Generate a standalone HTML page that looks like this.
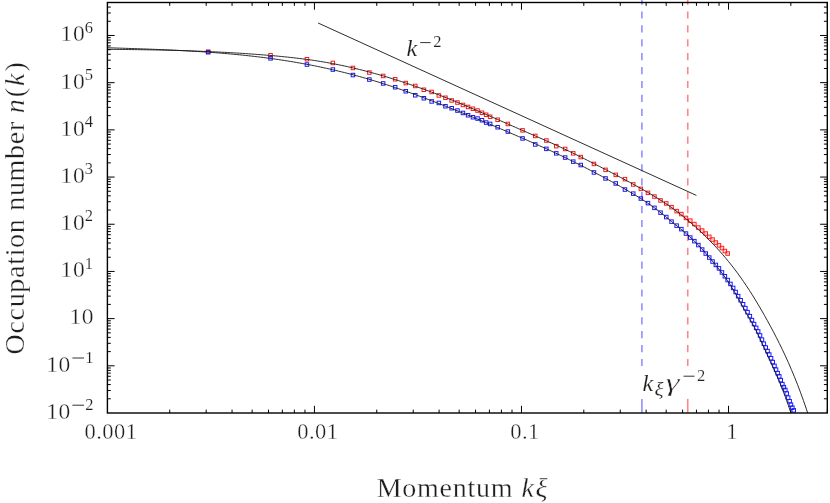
<!DOCTYPE html>
<html><head><meta charset="utf-8"><title>Occupation number</title>
<style>html,body{margin:0;padding:0;background:#fff}body{width:830px;height:503px;overflow:hidden;font-family:"Liberation Serif",serif}svg{display:block}</style>
</head><body>
<svg width="830" height="503" viewBox="0 0 830 503" font-family="Liberation Serif, serif" fill="#1e1e1e">
<style>text{stroke:#fff;stroke-width:0.3px;filter:grayscale(1)}.s{stroke-width:0.15px}</style>
<rect width="830" height="503" fill="#fff"/>
<g stroke-width="1.6" fill="none">
<path d="M641.9,-2.5V366.2" stroke="#9090ff" stroke-dasharray="7.2 6.7"/>
<path d="M641.9,398.9V413" stroke="#9090ff"/>
<path d="M687.75,-2.5V366.2" stroke="#ff8686" stroke-dasharray="7.2 6.7"/>
<path d="M687.75,398.9V413" stroke="#ff8686"/>
</g>
<g fill="#b4b4ff" stroke="none"><circle cx="643.8" cy="200.5" r="0.75"/><circle cx="650.6" cy="205.1" r="0.75"/><circle cx="656.9" cy="209.7" r="0.75"/><circle cx="662.8" cy="214.3" r="0.75"/><circle cx="668.4" cy="218.9" r="0.75"/><circle cx="673.6" cy="223.2" r="0.75"/><circle cx="678.6" cy="227.2" r="0.75"/><circle cx="683.2" cy="231.1" r="0.75"/><circle cx="687.7" cy="234.9" r="0.75"/><circle cx="691.9" cy="238.8" r="0.75"/><circle cx="696.0" cy="242.7" r="0.75"/><circle cx="699.9" cy="246.7" r="0.75"/><circle cx="703.6" cy="250.8" r="0.75"/><circle cx="707.1" cy="254.9" r="0.75"/><circle cx="710.6" cy="259.0" r="0.75"/><circle cx="713.9" cy="262.9" r="0.75"/><circle cx="717.1" cy="266.8" r="0.75"/><circle cx="720.2" cy="270.7" r="0.75"/><circle cx="723.1" cy="274.6" r="0.75"/><circle cx="726.0" cy="278.5" r="0.75"/><circle cx="728.8" cy="282.6" r="0.75"/><circle cx="731.5" cy="286.8" r="0.75"/><circle cx="734.1" cy="291.1" r="0.75"/><circle cx="736.7" cy="295.6" r="0.75"/><circle cx="739.2" cy="300.2" r="0.75"/><circle cx="741.6" cy="304.8" r="0.75"/><circle cx="744.0" cy="309.1" r="0.75"/><circle cx="746.2" cy="313.2" r="0.75"/><circle cx="748.5" cy="317.0" r="0.75"/><circle cx="750.7" cy="320.6" r="0.75"/><circle cx="752.8" cy="324.3" r="0.75"/><circle cx="754.9" cy="328.1" r="0.75"/><circle cx="756.9" cy="332.2" r="0.75"/><circle cx="758.9" cy="336.4" r="0.75"/><circle cx="760.8" cy="340.7" r="0.75"/><circle cx="762.8" cy="344.9" r="0.75"/><circle cx="764.6" cy="349.0" r="0.75"/><circle cx="766.4" cy="353.0" r="0.75"/><circle cx="768.2" cy="356.9" r="0.75"/><circle cx="770.0" cy="360.7" r="0.75"/><circle cx="771.7" cy="364.4" r="0.75"/><circle cx="773.4" cy="368.1" r="0.75"/><circle cx="775.1" cy="371.8" r="0.75"/><circle cx="776.7" cy="375.5" r="0.75"/><circle cx="778.3" cy="379.1" r="0.75"/><circle cx="779.9" cy="382.8" r="0.75"/><circle cx="781.4" cy="386.6" r="0.75"/><circle cx="782.9" cy="390.4" r="0.75"/><circle cx="784.4" cy="394.4" r="0.75"/><circle cx="785.9" cy="398.4" r="0.75"/><circle cx="787.3" cy="402.4" r="0.75"/><circle cx="788.8" cy="406.5" r="0.75"/><circle cx="790.2" cy="410.5" r="0.75"/></g>
<g fill="#ffb0b0" stroke="none"><circle cx="640.9" cy="188.8" r="0.75"/><circle cx="647.9" cy="192.8" r="0.75"/><circle cx="654.4" cy="196.5" r="0.75"/><circle cx="660.5" cy="200.4" r="0.75"/><circle cx="666.2" cy="203.4" r="0.75"/><circle cx="671.6" cy="207.2" r="0.75"/><circle cx="676.6" cy="211.2" r="0.75"/><circle cx="681.4" cy="214.1" r="0.75"/><circle cx="685.9" cy="217.9" r="0.75"/><circle cx="690.3" cy="220.7" r="0.75"/><circle cx="694.4" cy="224.1" r="0.75"/><circle cx="698.3" cy="227.5" r="0.75"/><circle cx="702.1" cy="230.6" r="0.75"/><circle cx="705.7" cy="233.6" r="0.75"/><circle cx="709.2" cy="236.8" r="0.75"/><circle cx="712.6" cy="239.6" r="0.75"/><circle cx="715.8" cy="242.6" r="0.75"/><circle cx="718.9" cy="245.3" r="0.75"/><circle cx="722.0" cy="248.1" r="0.75"/><circle cx="724.9" cy="251.1" r="0.75"/><circle cx="727.7" cy="253.5" r="0.75"/></g>
<g fill="none" stroke="#ff1a1a" stroke-width="1"><rect x="206.4" y="49.9" width="3.5" height="3.5"/><rect x="268.8" y="53.5" width="3.5" height="3.5"/><rect x="305.2" y="57.5" width="3.5" height="3.5"/><rect x="331.1" y="61.2" width="3.5" height="3.5"/><rect x="351.2" y="66.2" width="3.5" height="3.5"/><rect x="367.6" y="70.8" width="3.5" height="3.5"/><rect x="381.4" y="74.2" width="3.5" height="3.5"/><rect x="393.4" y="77.5" width="3.5" height="3.5"/><rect x="404.0" y="81.3" width="3.5" height="3.5"/><rect x="413.5" y="84.2" width="3.5" height="3.5"/><rect x="422.1" y="88.0" width="3.5" height="3.5"/><rect x="429.9" y="90.2" width="3.5" height="3.5"/><rect x="437.1" y="93.7" width="3.5" height="3.5"/><rect x="443.7" y="96.0" width="3.5" height="3.5"/><rect x="449.9" y="98.7" width="3.5" height="3.5"/><rect x="455.7" y="100.8" width="3.5" height="3.5"/><rect x="461.2" y="103.2" width="3.5" height="3.5"/><rect x="466.3" y="105.2" width="3.5" height="3.5"/><rect x="471.2" y="107.0" width="3.5" height="3.5"/><rect x="475.8" y="108.8" width="3.5" height="3.5"/><rect x="480.2" y="111.0" width="3.5" height="3.5"/><rect x="484.4" y="113.0" width="3.5" height="3.5"/><rect x="488.4" y="115.0" width="3.5" height="3.5"/><rect x="495.9" y="118.0" width="3.5" height="3.5"/><rect x="506.1" y="122.2" width="3.5" height="3.5"/><rect x="520.8" y="128.6" width="3.5" height="3.5"/><rect x="533.5" y="134.2" width="3.5" height="3.5"/><rect x="544.6" y="138.8" width="3.5" height="3.5"/><rect x="554.5" y="144.4" width="3.5" height="3.5"/><rect x="563.4" y="147.2" width="3.5" height="3.5"/><rect x="571.5" y="151.6" width="3.5" height="3.5"/><rect x="579.0" y="155.3" width="3.5" height="3.5"/><rect x="592.2" y="162.2" width="3.5" height="3.5"/><rect x="603.8" y="168.1" width="3.5" height="3.5"/><rect x="614.0" y="173.1" width="3.5" height="3.5"/><rect x="623.2" y="177.4" width="3.5" height="3.5"/><rect x="631.5" y="182.7" width="3.5" height="3.5"/><rect x="639.1" y="187.1" width="3.5" height="3.5"/><rect x="646.2" y="191.1" width="3.5" height="3.5"/><rect x="652.7" y="194.8" width="3.5" height="3.5"/><rect x="658.8" y="198.7" width="3.5" height="3.5"/><rect x="664.5" y="201.7" width="3.5" height="3.5"/><rect x="669.8" y="205.4" width="3.5" height="3.5"/><rect x="674.9" y="209.4" width="3.5" height="3.5"/><rect x="679.6" y="212.3" width="3.5" height="3.5"/><rect x="684.2" y="216.2" width="3.5" height="3.5"/><rect x="688.5" y="218.9" width="3.5" height="3.5"/><rect x="692.6" y="222.3" width="3.5" height="3.5"/><rect x="696.6" y="225.8" width="3.5" height="3.5"/><rect x="700.4" y="228.8" width="3.5" height="3.5"/><rect x="704.0" y="231.8" width="3.5" height="3.5"/><rect x="707.5" y="235.1" width="3.5" height="3.5"/><rect x="710.8" y="237.8" width="3.5" height="3.5"/><rect x="714.1" y="240.8" width="3.5" height="3.5"/><rect x="717.2" y="243.6" width="3.5" height="3.5"/><rect x="720.2" y="246.3" width="3.5" height="3.5"/><rect x="723.1" y="249.3" width="3.5" height="3.5"/><rect x="725.9" y="251.8" width="3.5" height="3.5"/></g>
<g fill="none" stroke="#1a1aff" stroke-width="1"><rect x="206.4" y="50.5" width="3.5" height="3.5"/><rect x="268.8" y="56.6" width="3.5" height="3.5"/><rect x="305.2" y="62.8" width="3.5" height="3.5"/><rect x="331.1" y="67.8" width="3.5" height="3.5"/><rect x="351.2" y="73.3" width="3.5" height="3.5"/><rect x="367.6" y="77.8" width="3.5" height="3.5"/><rect x="381.4" y="81.7" width="3.5" height="3.5"/><rect x="393.4" y="85.5" width="3.5" height="3.5"/><rect x="404.0" y="89.5" width="3.5" height="3.5"/><rect x="413.5" y="93.5" width="3.5" height="3.5"/><rect x="422.1" y="96.5" width="3.5" height="3.5"/><rect x="429.9" y="99.7" width="3.5" height="3.5"/><rect x="437.1" y="101.2" width="3.5" height="3.5"/><rect x="443.7" y="104.5" width="3.5" height="3.5"/><rect x="449.9" y="106.5" width="3.5" height="3.5"/><rect x="455.7" y="108.8" width="3.5" height="3.5"/><rect x="461.2" y="111.2" width="3.5" height="3.5"/><rect x="466.3" y="113.5" width="3.5" height="3.5"/><rect x="471.2" y="115.5" width="3.5" height="3.5"/><rect x="475.8" y="116.8" width="3.5" height="3.5"/><rect x="480.2" y="118.5" width="3.5" height="3.5"/><rect x="484.4" y="120.8" width="3.5" height="3.5"/><rect x="488.4" y="122.2" width="3.5" height="3.5"/><rect x="495.9" y="125.5" width="3.5" height="3.5"/><rect x="506.1" y="129.8" width="3.5" height="3.5"/><rect x="520.8" y="136.7" width="3.5" height="3.5"/><rect x="533.5" y="142.7" width="3.5" height="3.5"/><rect x="544.6" y="147.1" width="3.5" height="3.5"/><rect x="554.5" y="151.6" width="3.5" height="3.5"/><rect x="563.4" y="155.8" width="3.5" height="3.5"/><rect x="571.5" y="159.9" width="3.5" height="3.5"/><rect x="579.0" y="163.3" width="3.5" height="3.5"/><rect x="592.2" y="170.7" width="3.5" height="3.5"/><rect x="603.8" y="176.7" width="3.5" height="3.5"/><rect x="614.0" y="181.7" width="3.5" height="3.5"/><rect x="623.2" y="187.8" width="3.5" height="3.5"/><rect x="631.5" y="191.9" width="3.5" height="3.5"/><rect x="639.1" y="196.8" width="3.5" height="3.5"/><rect x="646.2" y="201.4" width="3.5" height="3.5"/><rect x="652.7" y="206.1" width="3.5" height="3.5"/><rect x="658.8" y="210.9" width="3.5" height="3.5"/><rect x="664.5" y="215.3" width="3.5" height="3.5"/><rect x="669.8" y="219.9" width="3.5" height="3.5"/><rect x="674.9" y="223.9" width="3.5" height="3.5"/><rect x="679.6" y="227.4" width="3.5" height="3.5"/><rect x="684.2" y="231.8" width="3.5" height="3.5"/><rect x="688.5" y="235.8" width="3.5" height="3.5"/><rect x="692.6" y="239.4" width="3.5" height="3.5"/><rect x="696.6" y="243.3" width="3.5" height="3.5"/><rect x="700.4" y="247.8" width="3.5" height="3.5"/><rect x="704.0" y="251.8" width="3.5" height="3.5"/><rect x="707.5" y="255.8" width="3.5" height="3.5"/><rect x="710.8" y="259.8" width="3.5" height="3.5"/><rect x="714.1" y="263.2" width="3.5" height="3.5"/><rect x="717.2" y="266.6" width="3.5" height="3.5"/><rect x="720.2" y="270.7" width="3.5" height="3.5"/><rect x="723.1" y="274.5" width="3.5" height="3.5"/><rect x="725.9" y="278.3" width="3.5" height="3.5"/><rect x="728.7" y="282.2" width="3.5" height="3.5"/><rect x="731.4" y="286.2" width="3.5" height="3.5"/><rect x="733.9" y="290.3" width="3.5" height="3.5"/><rect x="736.4" y="294.4" width="3.5" height="3.5"/><rect x="738.9" y="298.5" width="3.5" height="3.5"/><rect x="741.3" y="302.5" width="3.5" height="3.5"/><rect x="743.6" y="306.4" width="3.5" height="3.5"/><rect x="745.8" y="310.4" width="3.5" height="3.5"/><rect x="748.1" y="314.4" width="3.5" height="3.5"/><rect x="750.2" y="318.4" width="3.5" height="3.5"/><rect x="752.3" y="322.3" width="3.5" height="3.5"/><rect x="754.4" y="326.1" width="3.5" height="3.5"/><rect x="756.4" y="329.7" width="3.5" height="3.5"/><rect x="758.3" y="333.7" width="3.5" height="3.5"/><rect x="760.2" y="337.9" width="3.5" height="3.5"/><rect x="762.1" y="342.0" width="3.5" height="3.5"/><rect x="764.0" y="345.8" width="3.5" height="3.5"/><rect x="765.8" y="349.3" width="3.5" height="3.5"/><rect x="767.5" y="352.8" width="3.5" height="3.5"/><rect x="769.3" y="356.5" width="3.5" height="3.5"/><rect x="771.0" y="360.3" width="3.5" height="3.5"/><rect x="772.7" y="364.1" width="3.5" height="3.5"/><rect x="774.3" y="367.9" width="3.5" height="3.5"/><rect x="775.9" y="371.4" width="3.5" height="3.5"/><rect x="777.5" y="374.6" width="3.5" height="3.5"/><rect x="779.0" y="378.4" width="3.5" height="3.5"/><rect x="780.6" y="382.4" width="3.5" height="3.5"/><rect x="782.1" y="385.4" width="3.5" height="3.5"/><rect x="783.6" y="388.2" width="3.5" height="3.5"/><rect x="785.0" y="391.8" width="3.5" height="3.5"/><rect x="786.4" y="395.9" width="3.5" height="3.5"/><rect x="787.9" y="399.5" width="3.5" height="3.5"/><rect x="789.2" y="402.9" width="3.5" height="3.5"/><rect x="790.6" y="405.9" width="3.5" height="3.5"/><rect x="792.0" y="408.6" width="3.5" height="3.5"/></g>
<g stroke="#151515" stroke-width="0.9" fill="none" stroke-linejoin="round">
<path d="M107.4,49.35 L110.4,49.37 L113.4,49.39 L116.4,49.42 L119.4,49.45 L122.4,49.47 L125.4,49.51 L128.4,49.54 L131.4,49.57 L134.4,49.61 L137.4,49.65 L140.4,49.69 L143.4,49.74 L146.4,49.79 L149.4,49.84 L152.4,49.89 L155.4,49.95 L158.4,50.01 L161.4,50.07 L164.4,50.14 L167.4,50.21 L170.4,50.29 L173.4,50.36 L176.4,50.45 L179.4,50.53 L182.4,50.62 L185.4,50.71 L188.4,50.81 L191.4,50.91 L194.4,51.02 L197.4,51.13 L200.4,51.25 L203.4,51.37 L206.4,51.49 L209.4,51.62 L212.4,51.76 L215.4,51.90 L218.4,52.04 L221.4,52.19 L224.4,52.35 L227.4,52.51 L230.4,52.68 L233.4,52.85 L236.4,53.03 L239.4,53.21 L242.4,53.40 L245.4,53.60 L248.4,53.80 L251.4,54.01 L254.4,54.22 L257.4,54.44 L260.4,54.67 L263.4,54.91 L266.4,55.15 L269.4,55.40 L272.4,55.66 L275.4,55.92 L278.4,56.20 L281.4,56.49 L284.4,56.79 L287.4,57.10 L290.4,57.42 L293.4,57.75 L296.4,58.10 L299.4,58.46 L302.4,58.84 L305.4,59.23 L308.4,59.64 L311.4,60.06 L314.4,60.50 L317.4,60.96 L320.4,61.44 L323.4,61.94 L326.4,62.45 L329.4,62.99 L332.4,63.54 L335.4,64.12 L338.4,64.72 L341.4,65.33 L344.4,65.97 L347.4,66.63 L350.4,67.31 L353.4,68.01 L356.4,68.72 L359.4,69.46 L362.4,70.21 L365.4,70.99 L368.4,71.78 L371.4,72.58 L374.4,73.41 L377.4,74.25 L380.4,75.11 L383.4,75.98 L386.4,76.87 L389.4,77.78 L392.4,78.70 L395.4,79.64 L398.4,80.59 L401.4,81.56 L404.4,82.55 L407.4,83.55 L410.4,84.56 L413.4,85.59 L416.4,86.63 L419.4,87.69 L422.4,88.76 L425.4,89.85 L428.4,90.95 L431.4,92.07 L434.4,93.20 L437.4,94.34 L440.4,95.50 L443.4,96.67 L446.4,97.85 L449.4,99.05 L452.4,100.26 L455.4,101.48 L458.4,102.71 L461.4,103.95 L464.4,105.21 L467.4,106.47 L470.4,107.74 L473.4,109.01 L476.4,110.30 L479.4,111.59 L482.4,112.89 L485.4,114.19 L488.4,115.49 L491.4,116.80 L494.4,118.11 L497.4,119.43 L500.4,120.74 L503.4,122.06 L506.4,123.37 L509.4,124.69 L512.4,126.01 L515.4,127.32 L518.4,128.63 L521.4,129.93 L524.4,131.24 L527.4,132.54 L530.4,133.84 L533.4,135.14 L536.4,136.44 L539.4,137.74 L542.4,139.05 L545.4,140.37 L548.4,141.70 L551.4,143.03 L554.4,144.38 L557.4,145.75 L560.4,147.13 L563.4,148.52 L566.4,149.94 L569.4,151.38 L572.4,152.83 L575.4,154.30 L578.4,155.79 L581.4,157.28 L584.4,158.79 L587.4,160.30 L590.4,161.82 L593.4,163.35 L596.4,164.88 L599.4,166.41 L602.4,167.95 L605.4,169.49 L608.4,171.04 L611.4,172.59 L614.4,174.16 L617.4,175.73 L620.4,177.32 L623.4,178.91 L626.4,180.52 L629.4,182.15 L632.4,183.78 L635.4,185.44 L638.4,187.11 L641.4,188.80 L644.4,190.51 L647.4,192.23 L650.4,193.98 L653.4,195.76 L656.4,197.58 L659.4,199.43 L662.4,201.34 L665.4,203.31 L668.4,205.35 L671.4,207.46 L674.4,209.63 L677.4,211.88 L680.4,214.20 L683.4,216.59 L686.4,219.05 L689.4,221.58 L692.4,224.18 L695.4,226.86 L698.4,229.60 L701.4,232.42 L704.4,235.31 L707.4,238.27 L710.4,241.30 L713.4,244.41 L716.4,247.60 L719.4,250.88 L722.4,254.26 L725.4,257.75 L728.4,261.35 L731.4,265.08 L734.4,268.93 L737.4,272.93 L740.4,277.07 L743.4,281.36 L746.4,285.79 L749.4,290.37 L752.4,295.09 L755.4,299.95 L758.4,304.94 L761.4,310.06 L764.4,315.31 L767.4,320.68 L770.4,326.17 L773.4,331.79 L776.4,337.56 L779.4,343.51 L782.4,349.65 L785.4,356.03 L788.4,362.65 L791.4,369.55 L794.4,376.74 L797.4,384.27 L800.4,392.14 L803.4,400.40 L806.4,409.05 L807.7,413.00"/>
<path d="M107.4,47.76 L110.4,47.85 L113.4,47.94 L116.4,48.04 L119.4,48.13 L122.4,48.22 L125.4,48.32 L128.4,48.42 L131.4,48.52 L134.4,48.62 L137.4,48.72 L140.4,48.82 L143.4,48.93 L146.4,49.03 L149.4,49.15 L152.4,49.26 L155.4,49.38 L158.4,49.50 L161.4,49.62 L164.4,49.75 L167.4,49.88 L170.4,50.02 L173.4,50.16 L176.4,50.30 L179.4,50.45 L182.4,50.61 L185.4,50.77 L188.4,50.93 L191.4,51.11 L194.4,51.28 L197.4,51.47 L200.4,51.66 L203.4,51.86 L206.4,52.06 L209.4,52.27 L212.4,52.49 L215.4,52.71 L218.4,52.95 L221.4,53.19 L224.4,53.44 L227.4,53.70 L230.4,53.96 L233.4,54.24 L236.4,54.52 L239.4,54.81 L242.4,55.12 L245.4,55.43 L248.4,55.75 L251.4,56.09 L254.4,56.43 L257.4,56.78 L260.4,57.15 L263.4,57.52 L266.4,57.91 L269.4,58.31 L272.4,58.72 L275.4,59.14 L278.4,59.57 L281.4,60.02 L284.4,60.47 L287.4,60.95 L290.4,61.43 L293.4,61.93 L296.4,62.44 L299.4,62.96 L302.4,63.50 L305.4,64.05 L308.4,64.62 L311.4,65.20 L314.4,65.79 L317.4,66.40 L320.4,67.03 L323.4,67.67 L326.4,68.32 L329.4,68.99 L332.4,69.68 L335.4,70.37 L338.4,71.09 L341.4,71.82 L344.4,72.56 L347.4,73.32 L350.4,74.10 L353.4,74.89 L356.4,75.69 L359.4,76.52 L362.4,77.35 L365.4,78.21 L368.4,79.08 L371.4,79.96 L374.4,80.86 L377.4,81.78 L380.4,82.71 L383.4,83.66 L386.4,84.63 L389.4,85.61 L392.4,86.61 L395.4,87.62 L398.4,88.64 L401.4,89.68 L404.4,90.73 L407.4,91.80 L410.4,92.87 L413.4,93.96 L416.4,95.06 L419.4,96.17 L422.4,97.28 L425.4,98.41 L428.4,99.54 L431.4,100.69 L434.4,101.84 L437.4,102.99 L440.4,104.16 L443.4,105.33 L446.4,106.51 L449.4,107.69 L452.4,108.88 L455.4,110.08 L458.4,111.28 L461.4,112.49 L464.4,113.70 L467.4,114.93 L470.4,116.15 L473.4,117.38 L476.4,118.62 L479.4,119.87 L482.4,121.11 L485.4,122.37 L488.4,123.63 L491.4,124.89 L494.4,126.16 L497.4,127.43 L500.4,128.71 L503.4,129.99 L506.4,131.27 L509.4,132.56 L512.4,133.85 L515.4,135.15 L518.4,136.45 L521.4,137.76 L524.4,139.06 L527.4,140.37 L530.4,141.69 L533.4,143.01 L536.4,144.34 L539.4,145.68 L542.4,147.02 L545.4,148.38 L548.4,149.74 L551.4,151.12 L554.4,152.51 L557.4,153.91 L560.4,155.32 L563.4,156.75 L566.4,158.20 L569.4,159.66 L572.4,161.13 L575.4,162.63 L578.4,164.13 L581.4,165.65 L584.4,167.19 L587.4,168.73 L590.4,170.29 L593.4,171.86 L596.4,173.45 L599.4,175.04 L602.4,176.64 L605.4,178.25 L608.4,179.87 L611.4,181.50 L614.4,183.15 L617.4,184.81 L620.4,186.49 L623.4,188.19 L626.4,189.92 L629.4,191.67 L632.4,193.45 L635.4,195.26 L638.4,197.10 L641.4,198.99 L644.4,200.93 L647.4,202.92 L650.4,204.98 L653.4,207.11 L656.4,209.32 L659.4,211.61 L662.4,213.99 L665.4,216.44 L668.4,218.92 L671.4,221.40 L674.4,223.84 L677.4,226.26 L680.4,228.71 L683.4,231.21 L686.4,233.78 L689.4,236.45 L692.4,239.23 L695.4,242.14 L698.4,245.20 L701.4,248.41 L704.4,251.75 L707.4,255.21 L710.4,258.74 L713.4,262.33 L716.4,265.97 L719.4,269.71 L722.4,273.60 L725.4,277.67 L728.4,281.99 L731.4,286.61 L734.4,291.56 L737.4,296.90 L740.4,302.50 L743.4,308.10 L746.4,313.44 L749.4,318.51 L752.4,323.62 L755.4,329.13 L758.4,335.33 L761.4,341.95 L764.4,348.54 L767.4,355.05 L770.4,361.55 L773.4,368.10 L776.4,374.78 L779.4,381.73 L782.4,389.09 L785.4,397.00 L788.4,405.44 L791.0,413.00"/>
<path d="M318.1,23.0L696.4,195.4"/>
</g>
<path d="M169.72,413.0v-3.4M169.72,2.5v3.4M206.18,413.0v-3.4M206.18,2.5v3.4M232.05,413.0v-3.4M232.05,2.5v3.4M252.11,413.0v-3.4M252.11,2.5v3.4M268.51,413.0v-3.4M268.51,2.5v3.4M282.37,413.0v-3.4M282.37,2.5v3.4M294.37,413.0v-3.4M294.37,2.5v3.4M304.97,413.0v-3.4M304.97,2.5v3.4M314.44,413.0v-7.2M314.44,2.5v7.2M376.76,413.0v-3.4M376.76,2.5v3.4M413.22,413.0v-3.4M413.22,2.5v3.4M439.09,413.0v-3.4M439.09,2.5v3.4M459.15,413.0v-3.4M459.15,2.5v3.4M475.55,413.0v-3.4M475.55,2.5v3.4M489.41,413.0v-3.4M489.41,2.5v3.4M501.41,413.0v-3.4M501.41,2.5v3.4M512.00,413.0v-3.4M512.00,2.5v3.4M521.48,413.0v-7.2M521.48,2.5v7.2M583.80,413.0v-3.4M583.80,2.5v3.4M620.26,413.0v-3.4M620.26,2.5v3.4M646.13,413.0v-3.4M646.13,2.5v3.4M666.19,413.0v-3.4M666.19,2.5v3.4M682.59,413.0v-3.4M682.59,2.5v3.4M696.45,413.0v-3.4M696.45,2.5v3.4M708.45,413.0v-3.4M708.45,2.5v3.4M719.04,413.0v-3.4M719.04,2.5v3.4M728.52,413.0v-7.2M728.52,2.5v7.2M790.84,413.0v-3.4M790.84,2.5v3.4M827.30,413.0v-3.4M827.30,2.5v3.4M107.4,398.79h3.4M827.3,398.79h-3.4M107.4,390.48h3.4M827.3,390.48h-3.4M107.4,384.59h3.4M827.3,384.59h-3.4M107.4,380.02h3.4M827.3,380.02h-3.4M107.4,376.28h3.4M827.3,376.28h-3.4M107.4,373.12h3.4M827.3,373.12h-3.4M107.4,370.38h3.4M827.3,370.38h-3.4M107.4,367.97h3.4M827.3,367.97h-3.4M107.4,365.81h7.2M827.3,365.81h-7.2M107.4,351.61h3.4M827.3,351.61h-3.4M107.4,343.30h3.4M827.3,343.30h-3.4M107.4,337.40h3.4M827.3,337.40h-3.4M107.4,332.83h3.4M827.3,332.83h-3.4M107.4,329.09h3.4M827.3,329.09h-3.4M107.4,325.93h3.4M827.3,325.93h-3.4M107.4,323.19h3.4M827.3,323.19h-3.4M107.4,320.78h3.4M827.3,320.78h-3.4M107.4,318.62h7.2M827.3,318.62h-7.2M107.4,304.42h3.4M827.3,304.42h-3.4M107.4,296.11h3.4M827.3,296.11h-3.4M107.4,290.21h3.4M827.3,290.21h-3.4M107.4,285.64h3.4M827.3,285.64h-3.4M107.4,281.90h3.4M827.3,281.90h-3.4M107.4,278.74h3.4M827.3,278.74h-3.4M107.4,276.00h3.4M827.3,276.00h-3.4M107.4,273.59h3.4M827.3,273.59h-3.4M107.4,271.43h7.2M827.3,271.43h-7.2M107.4,257.23h3.4M827.3,257.23h-3.4M107.4,248.92h3.4M827.3,248.92h-3.4M107.4,243.02h3.4M827.3,243.02h-3.4M107.4,238.45h3.4M827.3,238.45h-3.4M107.4,234.71h3.4M827.3,234.71h-3.4M107.4,231.55h3.4M827.3,231.55h-3.4M107.4,228.82h3.4M827.3,228.82h-3.4M107.4,226.40h3.4M827.3,226.40h-3.4M107.4,224.24h7.2M827.3,224.24h-7.2M107.4,210.04h3.4M827.3,210.04h-3.4M107.4,201.73h3.4M827.3,201.73h-3.4M107.4,195.83h3.4M827.3,195.83h-3.4M107.4,191.26h3.4M827.3,191.26h-3.4M107.4,187.52h3.4M827.3,187.52h-3.4M107.4,184.36h3.4M827.3,184.36h-3.4M107.4,181.63h3.4M827.3,181.63h-3.4M107.4,179.21h3.4M827.3,179.21h-3.4M107.4,177.05h7.2M827.3,177.05h-7.2M107.4,162.85h3.4M827.3,162.85h-3.4M107.4,154.54h3.4M827.3,154.54h-3.4M107.4,148.64h3.4M827.3,148.64h-3.4M107.4,144.07h3.4M827.3,144.07h-3.4M107.4,140.33h3.4M827.3,140.33h-3.4M107.4,137.17h3.4M827.3,137.17h-3.4M107.4,134.44h3.4M827.3,134.44h-3.4M107.4,132.02h3.4M827.3,132.02h-3.4M107.4,129.86h7.2M827.3,129.86h-7.2M107.4,115.66h3.4M827.3,115.66h-3.4M107.4,107.35h3.4M827.3,107.35h-3.4M107.4,101.45h3.4M827.3,101.45h-3.4M107.4,96.88h3.4M827.3,96.88h-3.4M107.4,93.14h3.4M827.3,93.14h-3.4M107.4,89.98h3.4M827.3,89.98h-3.4M107.4,87.25h3.4M827.3,87.25h-3.4M107.4,84.83h3.4M827.3,84.83h-3.4M107.4,82.67h7.2M827.3,82.67h-7.2M107.4,68.47h3.4M827.3,68.47h-3.4M107.4,60.16h3.4M827.3,60.16h-3.4M107.4,54.26h3.4M827.3,54.26h-3.4M107.4,49.69h3.4M827.3,49.69h-3.4M107.4,45.95h3.4M827.3,45.95h-3.4M107.4,42.79h3.4M827.3,42.79h-3.4M107.4,40.06h3.4M827.3,40.06h-3.4M107.4,37.64h3.4M827.3,37.64h-3.4M107.4,35.48h7.2M827.3,35.48h-7.2M107.4,21.28h3.4M827.3,21.28h-3.4M107.4,12.97h3.4M827.3,12.97h-3.4M107.4,7.07h3.4M827.3,7.07h-3.4M107.4,2.50h3.4M827.3,2.50h-3.4" stroke="#000" stroke-width="1" fill="none"/>
<rect x="107.4" y="2.5" width="719.9" height="410.5" fill="none" stroke="#000" stroke-width="1.4"/>
<text x="110.9" y="439.3" text-anchor="middle" font-size="22.5" letter-spacing="0.45">0.001</text><text x="317.9" y="439.3" text-anchor="middle" font-size="22.5" letter-spacing="0.45">0.01</text><text x="525.0" y="439.3" text-anchor="middle" font-size="22.5" letter-spacing="0.45">0.1</text><text x="732.0" y="439.3" text-anchor="middle" font-size="22.5" letter-spacing="0.45">1</text><text x="46.2" y="418.8" font-size="23.5" letter-spacing="0.6">10</text><path d="M72.4,405.2h11.6" stroke="#333" stroke-width="1" fill="none"/><text x="93.6" y="410.2" text-anchor="end" font-size="16.5" class="s">2</text><text x="46.2" y="371.6" font-size="23.5" letter-spacing="0.6">10</text><path d="M72.4,358.0h11.6" stroke="#333" stroke-width="1" fill="none"/><text x="93.6" y="363.0" text-anchor="end" font-size="16.5" class="s">1</text><text x="69.4" y="324.4" font-size="23.5" letter-spacing="0.6">10</text><text x="60.6" y="277.2" font-size="23.5" letter-spacing="0.6">10</text><text x="93.0" y="268.6" text-anchor="end" font-size="16.5" class="s">1</text><text x="60.6" y="230.0" font-size="23.5" letter-spacing="0.6">10</text><text x="93.0" y="221.4" text-anchor="end" font-size="16.5" class="s">2</text><text x="60.6" y="182.9" font-size="23.5" letter-spacing="0.6">10</text><text x="93.0" y="174.3" text-anchor="end" font-size="16.5" class="s">3</text><text x="60.6" y="135.7" font-size="23.5" letter-spacing="0.6">10</text><text x="93.0" y="127.1" text-anchor="end" font-size="16.5" class="s">4</text><text x="60.6" y="88.5" font-size="23.5" letter-spacing="0.6">10</text><text x="93.0" y="79.9" text-anchor="end" font-size="16.5" class="s">5</text><text x="60.6" y="41.3" font-size="23.5" letter-spacing="0.6">10</text><text x="93.0" y="32.7" text-anchor="end" font-size="16.5" class="s">6</text>
<text x="406.5" y="55.5" font-size="24" font-style="italic" class="s">k</text>
<path d="M420.2,42.6h10.4" stroke="#333" stroke-width="1" fill="none"/>
<text x="433.3" y="46.7" font-size="16.5" class="s">2</text>
<text x="642.6" y="390.8" font-size="24" font-style="italic" class="s">k</text>
<text transform="translate(654.6,395.2) scale(1.18,1)" font-size="18" font-style="italic" class="s">ξ</text>
<text transform="translate(665.6,390.9) scale(1.42,1)" font-size="25" font-style="italic" style="stroke-width:0.4px">γ</text>
<path d="M683.5,376.2h11" stroke="#333" stroke-width="1" fill="none"/>
<text x="697.1" y="381.1" font-size="16.5" class="s">2</text>
<text x="376.7" y="496.7" font-size="28" letter-spacing="0.75">Momentum</text>
<text x="521.6" y="496.7" font-size="28" font-style="italic" letter-spacing="1.6">kξ</text>
<text transform="translate(23.6,207.4) rotate(-90)" text-anchor="middle" font-size="28" letter-spacing="0.7">Occupation number <tspan letter-spacing="2"><tspan font-style="italic">n</tspan>(<tspan font-style="italic">k</tspan>)</tspan></text>
</svg>
</body></html>
